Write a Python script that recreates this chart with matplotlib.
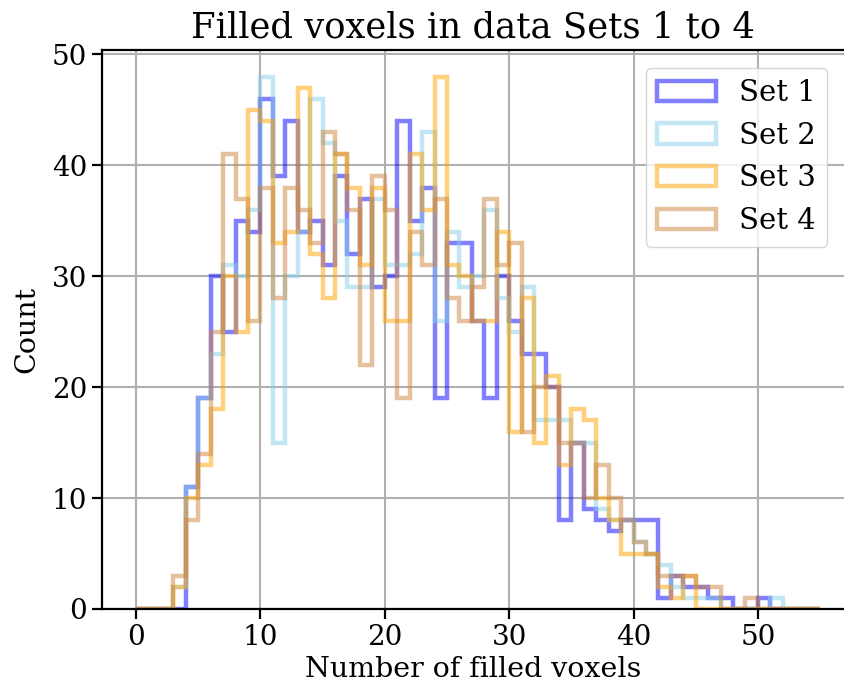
import numpy as np
import matplotlib
matplotlib.use('Agg')
import matplotlib.pyplot as plt

# counts per unit-width bin, bins 0..54
bin_edges = list(range(0, 56))

set1_counts = [0, 0, 0, 0, 11, 19, 30, 25, 35, 34, 46, 39, 44, 34, 35, 31, 39, 32, 37, 29,
               30, 44, 35, 38, 19, 33, 33, 26, 19, 30, 26, 23, 23, 20, 8, 15, 9, 8, 7, 8,
               8, 8, 1, 3, 2, 2, 1, 1, 0, 0, 1, 0, 0, 0, 0]
set2_counts = [0, 0, 0, 2, 11, 19, 23, 31, 30, 36, 48, 15, 30, 34, 46, 42, 35, 29, 29, 37,
               31, 31, 32, 43, 26, 34, 29, 30, 36, 28, 25, 29, 17, 17, 17, 15, 15, 9, 8, 8,
               6, 5, 4, 2, 1, 1, 1, 0, 0, 0, 0, 1, 0, 0, 0]
set3_counts = [0, 0, 0, 2, 10, 13, 18, 30, 25, 45, 44, 33, 34, 47, 32, 28, 41, 38, 31, 38,
               26, 26, 41, 36, 48, 31, 30, 26, 26, 34, 16, 28, 15, 21, 13, 18, 17, 10, 8, 5,
               5, 5, 2, 1, 3, 0, 0, 0, 0, 0, 0, 0, 0, 0, 0]
set4_counts = [0, 0, 0, 3, 8, 14, 25, 41, 37, 26, 38, 28, 38, 36, 33, 43, 41, 36, 22, 39,
               36, 19, 34, 31, 37, 28, 26, 29, 37, 31, 33, 16, 20, 20, 15, 15, 10, 13, 10, 8,
               6, 5, 3, 3, 3, 2, 2, 0, 0, 1, 0, 0, 0, 0, 0]

set_labels = ['Set 1', 'Set 2', 'Set 3', 'Set 4']
set_colors = ['blue', 'skyblue', 'orange', 'peru']

plt.rcParams['font.family'] = 'DejaVu Serif'

fig = plt.figure(figsize=(8.45, 6.9), dpi=100)
ax = fig.add_axes([0.1205, 0.1174, 0.8795, 0.8101])

centers = np.array(bin_edges[:-1]) + 0.5
for counts, label, color in zip([set1_counts, set2_counts, set3_counts, set4_counts],
                                set_labels, set_colors):
    ax.hist(centers, bins=bin_edges, weights=counts, histtype='step',
            color=color, alpha=0.5, linewidth=3.2, label=label)

ax.set_xlim(-2.75, 57.0)
ax.grid(True, color='#b0b0b0', linewidth=1.5)
ax.set_axisbelow(True)
for s in ax.spines.values():
    s.set_linewidth(1.6)
ax.spines['right'].set_visible(False)
ax.tick_params(labelsize=20, width=1.6, length=7)

ax.set_title('Filled voxels in data Sets 1 to 4', fontsize=25.5, pad=9)
ax.set_xlabel('Number of filled voxels', fontsize=20.5, labelpad=4)
ax.set_ylabel('Count', fontsize=20.5, labelpad=8)
ax.legend(loc='upper right', fontsize=21, borderaxespad=0.6)

fig.savefig('out.png', dpi=100)
